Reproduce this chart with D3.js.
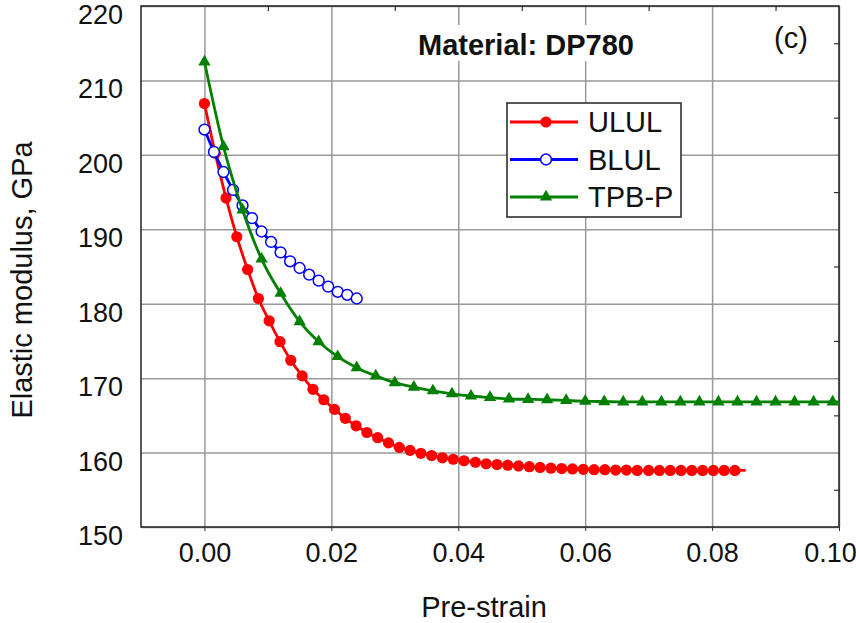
<!doctype html>
<html>
<head>
    <script src="https://d3js.org/d3.v7.min.js"></script>
    <style>
        body { margin: 0; background: #fff; }
        svg text { font-family: "Liberation Sans", Arial, sans-serif; fill: #111; }
    </style>
</head>
<body>
<script>
    // values
    let ululX = [0, 0.0017, 0.0034, 0.0051, 0.0068, 0.0085, 0.0102, 0.0119, 0.0136, 0.0154,
                 0.0171, 0.0188, 0.0205, 0.0222, 0.0239, 0.0256, 0.0273, 0.0290, 0.0307, 0.0324,
                 0.0341, 0.0358, 0.0375, 0.0392, 0.0409, 0.0427, 0.0444, 0.0461, 0.0478, 0.0495,
                 0.0512, 0.0529, 0.0546, 0.0563, 0.0580, 0.0597, 0.0614, 0.0631, 0.0648, 0.0665,
                 0.0682, 0.0700, 0.0717, 0.0734, 0.0751, 0.0768, 0.0785, 0.0802, 0.0819, 0.0836];
    let ululY = [206.9, 200.2, 194.2, 189.0, 184.6, 180.7, 177.7, 174.9, 172.4, 170.3,
                 168.5, 167.1, 165.8, 164.6, 163.6, 162.7, 162.0, 161.3, 160.7, 160.3,
                 159.9, 159.6, 159.3, 159.1, 158.9, 158.7, 158.5, 158.4, 158.3, 158.2,
                 158.1, 158.0, 157.9, 157.85, 157.8, 157.75, 157.7, 157.7, 157.65, 157.65,
                 157.6, 157.6, 157.6, 157.6, 157.6, 157.6, 157.6, 157.6, 157.6, 157.6];
    let ululLineEnd = [0.0853, 157.6];

    let blulX = [0, 0.0015, 0.0030, 0.0045, 0.0060, 0.0075, 0.0090, 0.0105, 0.0120,
                 0.0135, 0.0150, 0.0165, 0.0180, 0.0195, 0.0210, 0.0225, 0.0240];
    let blulY = [203.4, 200.4, 197.7, 195.3, 193.2, 191.5, 189.7, 188.3, 186.9,
                 185.7, 184.8, 183.9, 183.1, 182.3, 181.6, 181.2, 180.7];

    let tpbX = [0, 0.003, 0.006, 0.009, 0.012, 0.015, 0.018, 0.021, 0.024, 0.027,
                0.030, 0.033, 0.036, 0.039, 0.042, 0.045, 0.048, 0.051, 0.054, 0.057,
                0.060, 0.063, 0.066, 0.069, 0.072, 0.075, 0.078, 0.081, 0.084, 0.087,
                0.090, 0.093, 0.096, 0.099];
    let tpbY = [212.5, 201.1, 192.6, 186.0, 181.4, 177.6, 174.9, 172.9, 171.4, 170.3,
                169.4, 168.8, 168.3, 167.9, 167.6, 167.4, 167.2, 167.15, 167.1, 167.0,
                166.9, 166.85, 166.8, 166.8, 166.8, 166.8, 166.8, 166.8, 166.8, 166.8,
                166.8, 166.8, 166.8, 166.8];
    let tpbLineEnd = [0.1, 166.8];

    let xTicks = [0, 0.02, 0.04, 0.06, 0.08, 0.10];
    let yTicks = [150, 160, 170, 180, 190, 200, 210, 220];
    let xMinor = [0.01, 0.03, 0.05, 0.07, 0.09];
    let yMinor = [155, 165, 175, 185, 195, 205, 215];

    let seriesNames = ["ULUL", "BLUL", "TPB-P"];
    let colors = ["#ff0000", "#0000ff", "#008000"];

    let width = 856, height = 623;
    let pLeft = 141, pRight = 839, pTop = 6, pBottom = 527;

    let x = d3.scaleLinear().domain([-0.01, 0.10]).range([pLeft, pRight]);
    let y = d3.scaleLinear().domain([150, 220]).range([pBottom, pTop]);

    let svg = d3.select("body").append("svg")
                .attr("width", width)
                .attr("height", height);

    // grid
    svg.append("g")
       .attr("transform", "translate(0," + pBottom + ")")
       .call(d3.axisBottom(x).tickValues(xTicks).tickSize(-(pBottom - pTop)).tickFormat(""))
       .call(g => g.select(".domain").remove())
       .selectAll("line").attr("stroke", "#999").attr("stroke-width", 1.5);
    svg.append("g")
       .attr("transform", "translate(" + pLeft + ",0)")
       .call(d3.axisLeft(y).tickValues(yTicks).tickSize(-(pRight - pLeft)).tickFormat(""))
       .call(g => g.select(".domain").remove())
       .selectAll("line").attr("stroke", "#999").attr("stroke-width", 1.5);

    // minor ticks on top and right
    svg.append("g")
       .attr("transform", "translate(0," + pTop + ")")
       .call(d3.axisTop(x).tickValues(xMinor).tickSize(-5).tickFormat(""))
       .call(g => g.select(".domain").remove())
       .selectAll("line").attr("stroke", "#333").attr("stroke-width", 1.2);
    svg.append("g")
       .attr("transform", "translate(" + pRight + ",0)")
       .call(d3.axisRight(y).tickValues(yMinor).tickSize(-5).tickFormat(""))
       .call(g => g.select(".domain").remove())
       .selectAll("line").attr("stroke", "#333").attr("stroke-width", 1.2);

    // frame
    svg.append("rect")
       .attr("x", pLeft).attr("y", pTop)
       .attr("width", pRight - pLeft).attr("height", pBottom - pTop)
       .attr("fill", "none").attr("stroke", "#222").attr("stroke-width", 1.5);

    // tick labels
    let xAxis = svg.append("g")
       .attr("transform", "translate(0," + pBottom + ")")
       .call(d3.axisBottom(x).tickValues(xTicks).tickSize(4).tickPadding(12).tickFormat(d3.format(".2f")));
    xAxis.select(".domain").remove();
    xAxis.selectAll("line").attr("stroke", "#333");
    xAxis.selectAll("text").style("font-size", "27px");
    // last label sits at the page edge, nudge it in so it stays whole
    xAxis.selectAll("text").filter(d => d === 0.10).attr("dx", -9);

    let yAxis = svg.append("g")
       .attr("transform", "translate(" + pLeft + ",0)")
       .call(d3.axisLeft(y).tickValues(yTicks).tickSize(0).tickPadding(18));
    yAxis.select(".domain").remove();
    yAxis.selectAll("text").style("font-size", "27px").attr("dy", "0.65em");

    // axis titles
    svg.append("text")
       .attr("x", 484).attr("y", 617)
       .attr("text-anchor", "middle")
       .style("font-size", "29px")
       .text("Pre-strain");
    svg.append("text")
       .attr("transform", "translate(32,280) rotate(-90)")
       .attr("text-anchor", "middle")
       .style("font-size", "29px")
       .text("Elastic modulus, GPa");

    // curves
    let line = d3.line().x(d => x(d[0])).y(d => y(d[1])).curve(d3.curveMonotoneX);

    let ulul = ululX.map((v, i) => [v, ululY[i]]);
    let blul = blulX.map((v, i) => [v, blulY[i]]);
    let tpb = tpbX.map((v, i) => [v, tpbY[i]]);

    svg.append("clipPath").attr("id", "clip")
       .append("rect").attr("x", pLeft).attr("y", pTop)
       .attr("width", pRight - pLeft).attr("height", pBottom - pTop);

    let plot = svg.append("g").attr("clip-path", "url(#clip)");

    plot.append("path").datum(ulul.concat([ululLineEnd]))
        .attr("d", line).attr("fill", "none")
        .attr("stroke", colors[0]).attr("stroke-width", 2.8);
    plot.selectAll(".ulul").data(ulul).enter().append("circle")
        .attr("cx", d => x(d[0])).attr("cy", d => y(d[1])).attr("r", 5.6)
        .attr("fill", colors[0]);

    plot.append("path").datum(blul)
        .attr("d", line).attr("fill", "none")
        .attr("stroke", colors[1]).attr("stroke-width", 2.8);
    plot.selectAll(".blul").data(blul).enter().append("circle")
        .attr("cx", d => x(d[0])).attr("cy", d => y(d[1])).attr("r", 5.4)
        .attr("fill", "#fff").attr("stroke", colors[1]).attr("stroke-width", 1.5);

    plot.append("path").datum(tpb.concat([tpbLineEnd]))
        .attr("d", line).attr("fill", "none")
        .attr("stroke", colors[2]).attr("stroke-width", 2.8);
    let tri = d3.symbol().type(d3.symbolTriangle).size(66);
    plot.selectAll(".tpb").data(tpb).enter().append("path")
        .attr("d", tri)
        .attr("transform", d => "translate(" + x(d[0]) + "," + y(d[1]) + ")")
        .attr("fill", colors[2]);

    // title + panel label
    svg.append("rect")
       .attr("x", 410).attr("y", 25).attr("width", 232).attr("height", 36)
       .attr("fill", "#fff");
    svg.append("text")
       .attr("x", 526).attr("y", 55)
       .attr("text-anchor", "middle")
       .style("font-size", "29px").style("font-weight", "bold")
       .text("Material: DP780");
    svg.append("text")
       .attr("x", 791).attr("y", 48)
       .attr("text-anchor", "middle")
       .style("font-size", "29px")
       .text("(c)");

    // legend
    let legend = svg.append("g").attr("transform", "translate(507,103)");
    legend.append("rect")
          .attr("width", 174).attr("height", 114)
          .attr("fill", "#fff").attr("stroke", "#222").attr("stroke-width", 1.5);
    let rows = legend.selectAll(".row").data(seriesNames).enter().append("g")
          .attr("transform", (d, i) => "translate(0," + (19 + i * 37.5) + ")");
    rows.append("line")
        .attr("x1", 3).attr("x2", 71)
        .attr("stroke", (d, i) => colors[i]).attr("stroke-width", 2.8);
    rows.filter((d, i) => i === 0).append("circle")
        .attr("cx", 39).attr("r", 5.6).attr("fill", colors[0]);
    rows.filter((d, i) => i === 1).append("circle")
        .attr("cx", 39).attr("r", 5.4).attr("fill", "#fff")
        .attr("stroke", colors[1]).attr("stroke-width", 1.5);
    rows.filter((d, i) => i === 2).append("path")
        .attr("d", tri).attr("transform", "translate(39,0)").attr("fill", colors[2]);
    rows.append("text")
        .attr("x", 81).attr("dy", "0.36em")
        .style("font-size", "29px")
        .text(d => d);
</script>
</body>
</html>
